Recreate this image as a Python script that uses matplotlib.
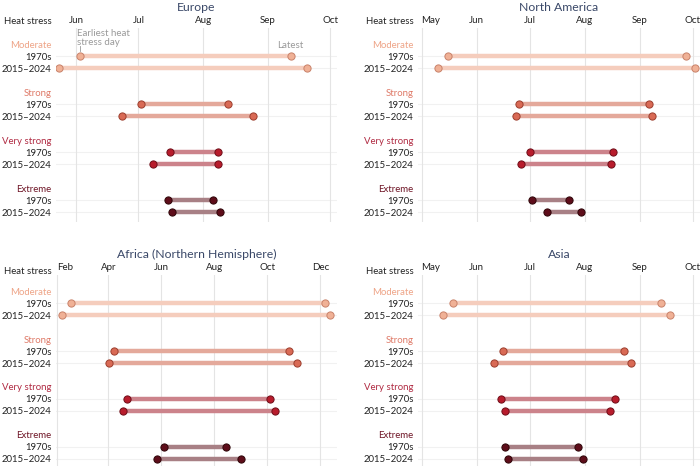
import matplotlib
matplotlib.use("Agg")
import matplotlib.pyplot as plt
from matplotlib.transforms import blended_transform_factory

plt.rcParams['font.family'] = ['Lato', 'DejaVu Sans']

# ---------------- data (day of year) ----------------
categories = ["Moderate", "Strong", "Very strong", "Extreme"]
periods = ["1970s", "2015–2024"]

europe_1970s_start = [154, 183, 197, 196]
europe_1970s_end = [255, 225, 220, 218]
europe_2015_start = [144, 174, 189, 198]
europe_2015_end = [263, 237, 220, 221]

namerica_1970s_start = [136, 176, 182, 183]
namerica_1970s_end = [270, 249, 229, 204]
namerica_2015_start = [130, 174, 177, 192]
namerica_2015_end = [275, 251, 228, 211]

africa_1970s_start = [48, 97, 113, 155]
africa_1970s_end = [340, 299, 277, 226]
africa_2015_start = [38, 92, 108, 147]
africa_2015_end = [346, 308, 283, 244]

asia_1970s_start = [139, 167, 166, 168]
asia_1970s_end = [256, 235, 230, 209]
asia_2015_start = [133, 162, 168, 170]
asia_2015_end = [261, 239, 227, 212]

month_names = ["Jan", "Feb", "Mar", "Apr", "May", "Jun", "Jul", "Aug", "Sep", "Oct", "Nov", "Dec"]
month_doy = [1, 32, 60, 91, 121, 152, 182, 213, 244, 274, 305, 335]

# ---------------- styles ----------------
label_colors = ["#eea487", "#df7a68", "#b02a42", "#6e1526"]
line_colors = ["#f5cdbd", "#e4a99b", "#cc838b", "#a88085"]
marker_colors = ["#f0b196", "#d96a55", "#b81c2c", "#5e0d1a"]
edge_colors = ["#c9826a", "#9c3e2e", "#6e0d18", "#2e0508"]
title_color = "#3a4868"
text_color = "#222222"
grid_color = "#e4e4e4"

W, H = 700, 466
fig = plt.figure(figsize=(W / 100, H / 100), dpi=100)


def px_axes(left, top, right, bottom):
    return fig.add_axes([left / W, 1 - bottom / H, (right - left) / W, (bottom - top) / H])


def draw_panel(box, title, xlim, months, data, ylim_bottom, header_y, first_left):
    ax = px_axes(*box)
    s70, e70, s15, e15 = data
    ytick_pos, ytick_lab, ytick_col = [], [], []
    for i, cat in enumerate(categories):
        base = i * 4
        ytick_pos += [base, base + 1, base + 2]
        ytick_lab += [cat, periods[0], periods[1]]
        ytick_col += [label_colors[i], text_color, text_color]
        for y, (s, e) in zip([base + 1, base + 2], [(s70[i], e70[i]), (s15[i], e15[i])]):
            ax.axhline(y, color="#f1f1f1", lw=0.8, zorder=0)
            ax.plot([s, e], [y, y], color=line_colors[i], lw=3.2, solid_capstyle="butt", zorder=2)
            ax.plot([s, e], [y, y], ls="none", marker="o", ms=5.2, mfc=marker_colors[i],
                    mec=edge_colors[i], mew=0.7, zorder=3)
    ax.set_xlim(*xlim)
    ax.set_ylim(ylim_bottom, -1.35)
    ax.set_xticks([month_doy[m] for m in months])
    ax.set_xticklabels([month_names[m] for m in months])
    ax.xaxis.tick_top()
    ax.tick_params(axis="x", length=0, pad=2, labelsize=7, labelcolor=text_color)
    if first_left:
        ax.get_xticklabels()[0].set_horizontalalignment("left")
    ax.grid(axis="x", color=grid_color, lw=0.8, zorder=0)
    ax.set_yticks(ytick_pos)
    ax.set_yticklabels(ytick_lab)
    ax.tick_params(axis="y", length=0, pad=3.2, labelsize=6.9)
    for t, c in zip(ax.get_yticklabels(), ytick_col):
        t.set_color(c)
    for sp in ax.spines.values():
        sp.set_visible(False)
    ax.set_title(title, color=title_color, fontsize=8.8, pad=12)
    # "Heat stress" header
    tr = blended_transform_factory(ax.transAxes, fig.transFigure)
    ax.text(-0.016, 1 - header_y / H, "Heat stress", transform=tr, ha="right", va="center",
            fontsize=6.9, color=text_color)
    return ax


ax_eu = draw_panel((56, 28, 337, 222), "Europe", (142.4, 277.3), [5, 6, 7, 8, 9],
                   (europe_1970s_start, europe_1970s_end, europe_2015_start, europe_2015_end),
                   14.8, 22, False)
draw_panel((418, 28, 700, 222), "North America", (119, 278), [4, 5, 6, 7, 8, 9],
           (namerica_1970s_start, namerica_1970s_end, namerica_2015_start, namerica_2015_end),
           14.8, 22, True)
draw_panel((56, 275, 337, 466), "Africa (Northern Hemisphere)", (30.8, 354), [1, 3, 5, 7, 9, 11],
           (africa_1970s_start, africa_1970s_end, africa_2015_start, africa_2015_end),
           14.6, 272, True)
draw_panel((418, 275, 700, 466), "Asia", (119, 278), [4, 5, 6, 7, 8, 9],
           (asia_1970s_start, asia_1970s_end, asia_2015_start, asia_2015_end),
           14.6, 272, True)

# annotations in Europe panel
ax_eu.annotate("Earliest heat\nstress day", xy=(europe_1970s_start[0], 0.55), xytext=(europe_1970s_start[0] - 1.5, -0.55),
               textcoords="data", ha="left", va="center", fontsize=7, color="#9a9a9a", linespacing=1.0,
               annotation_clip=False)
ax_eu.plot([europe_1970s_start[0], europe_1970s_start[0]], [0.15, 0.6], color="#9a9a9a", lw=0.6)
ax_eu.text(europe_1970s_end[0], 0.1, "Latest", ha="center", va="center", fontsize=7, color="#9a9a9a")

fig.savefig("out.png", dpi=100)
